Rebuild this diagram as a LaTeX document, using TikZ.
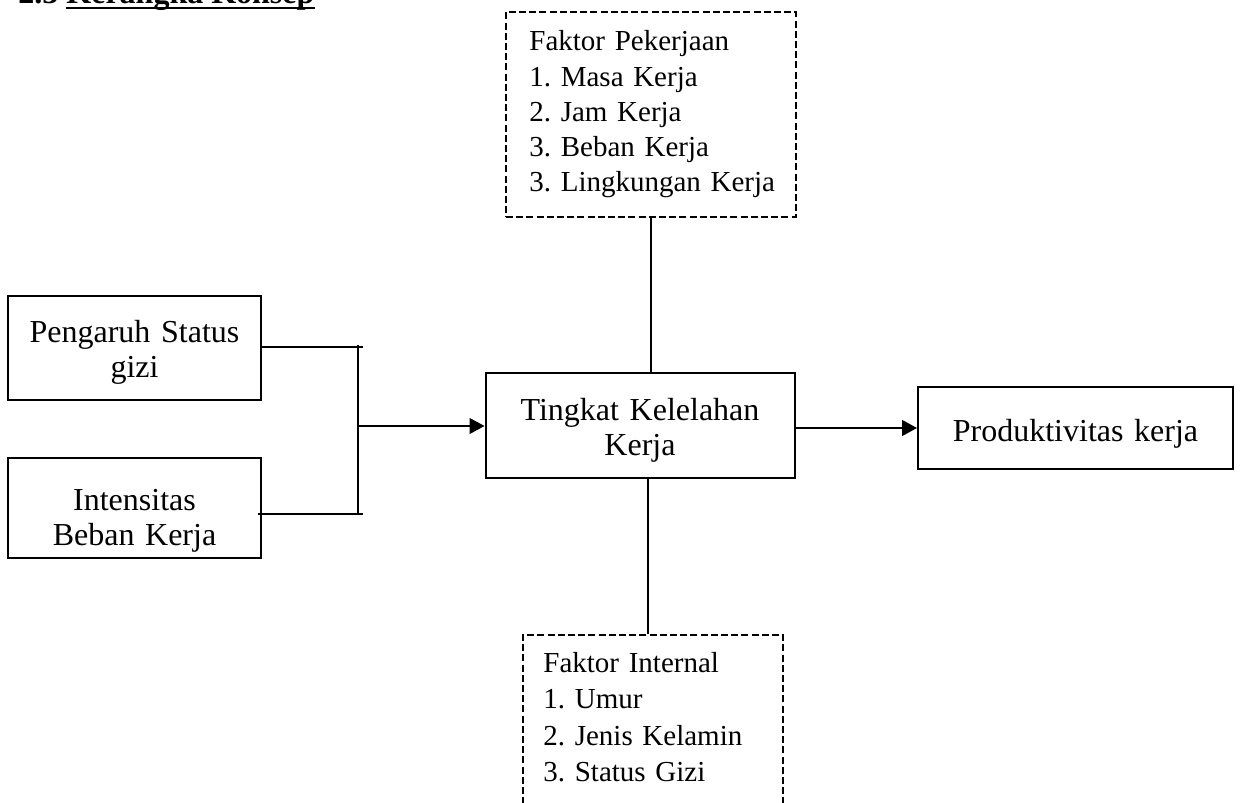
\documentclass[tikz,border=0pt]{standalone}
\usepackage{fontspec}
\setmainfont{Liberation Serif}
\usetikzlibrary{arrows.meta,calc}
\frenchspacing
\begin{document}
\begin{tikzpicture}[x=0.5pt,y=-0.5pt,
  box/.style={draw, line width=1pt, inner sep=0pt},
  dbox/.style={draw, line width=1.1pt, dash pattern=on 3.5pt off 1.6pt, inner sep=0pt},
  ctext/.style={anchor=base, inner sep=0pt, text width=150pt, align=center, font=\fontsize{16}{17.5}\selectfont\frenchspacing},
  ltext/.style={anchor=base west, inner sep=0pt, text width=140pt, align=left},
  ttl/.style={anchor=base west, inner sep=0pt, font=\fontsize{16}{17.5}\selectfont\bfseries},
  link/.style={line width=0.6pt},
  arr/.style={link, -{Triangle[length=7.5pt,width=8pt]}}]
\clip (0,0) rectangle (1240,802);
% title
\node[ttl] (t1) at (18,4) {2.3};
\node[ttl] (t2) at (66,4) {Kerangka Konsep};
\draw[line width=1.15pt] ([yshift=-2pt]t2.base west) -- ([yshift=-2pt]t2.base east);
% boxes
\node[box, minimum width=126.5pt, minimum height=52pt] (pg) at (134.5,348) {};
\node[ctext] (pgt) at (134.5,342) {Pengaruh Status\\gizi};
\node[box, minimum width=126.5pt, minimum height=50pt] (ib) at (134.5,508) {};
\node[ctext] (ibt) at (134.5,510) {Intensitas\\Beban Kerja};
\node[box, minimum width=154.5pt, minimum height=52.5pt] (tk) at (640,425.5) {};
\node[ctext] (tkt) at (640,420) {Tingkat Kelelahan\\Kerja};
\node[box, minimum width=157.5pt, minimum height=41pt] (pk) at (1075.5,428) {};
\node[ctext, text width=157pt] (pkt) at (1075.5,441) {Produktivitas kerja};
\node[dbox, minimum width=145pt, minimum height=102.5pt] (fp) at (651,114.5) {};
\node[ltext, font=\fontsize{14.5}{17.6}\selectfont\frenchspacing] (fpt) at (529,51) {Faktor Pekerjaan\\1. Masa Kerja\\2. Jam Kerja\\3. Beban Kerja\\3. Lingkungan Kerja};
\node[dbox, minimum width=130pt, minimum height=97.5pt] (fi) at (653,732.5) {};
\node[ltext, font=\fontsize{14.5}{18.25}\selectfont\frenchspacing] (fit) at (543,672) {Faktor Internal\\1. Umur\\2. Jenis Kelamin\\3. Status Gizi};
% connectors
\draw[link] (fp.south) -- (fp.south |- tk.north);
\coordinate (tks) at ([xshift=4pt]tk.south);
\draw[link] (tks) -- (tks |- fi.north);
\coordinate (bt) at (358,345);
\coordinate (bb) at (358,514);
\coordinate (bm) at (358,426);
\coordinate (btr) at (363,347);
\coordinate (bbr) at (363,514);
\coordinate (ibx) at ([xshift=-2pt]ib.east);
\draw[line width=1pt] (pg.east |- btr) -- (btr);
\draw[line width=0.7pt] (ibx |- bbr) -- (bbr);
\draw[link] (bt) -- (bb);
\draw[arr] (bm) -- (bm -| tk.west);
\draw[arr] (tk.east |- pk.west) -- (pk.west);
\end{tikzpicture}
\end{document}
